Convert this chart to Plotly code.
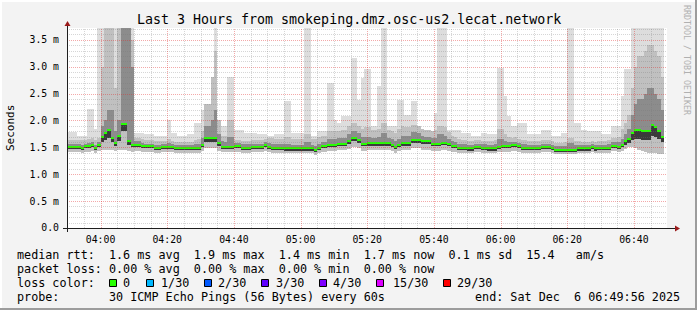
import plotly.graph_objects as go
from datetime import datetime, timedelta

# ---------------- data (ms, one value per 60 s step, starting 03:50) ----------------
rtt_median = [
    1.51, 1.51, 1.51, 1.51, 1.49, 1.52, 1.53, 1.54, 1.49, 1.55,
    1.70, 1.76, 1.82, 1.68, 1.58, 1.72, 1.94, 1.94, 1.61, 1.55,
    1.55, 1.55, 1.52, 1.52, 1.52, 1.52, 1.49, 1.49, 1.51, 1.51,
    1.51, 1.51, 1.49, 1.49, 1.49, 1.49, 1.49, 1.49, 1.49, 1.49,
    1.55, 1.68, 1.68, 1.68, 1.68, 1.58, 1.51, 1.51, 1.51, 1.51,
    1.52, 1.52, 1.49, 1.49, 1.49, 1.51, 1.51, 1.51, 1.51, 1.54,
    1.51, 1.49, 1.49, 1.49, 1.49, 1.48, 1.48, 1.48, 1.48, 1.48,
    1.48, 1.48, 1.48, 1.48, 1.45, 1.49, 1.52, 1.52, 1.54, 1.54,
    1.54, 1.57, 1.57, 1.57, 1.61, 1.68, 1.68, 1.64, 1.57, 1.57,
    1.58, 1.58, 1.58, 1.58, 1.58, 1.58, 1.58, 1.55, 1.51, 1.55,
    1.58, 1.58, 1.58, 1.64, 1.64, 1.64, 1.61, 1.61, 1.61, 1.57,
    1.57, 1.57, 1.59, 1.59, 1.57, 1.52, 1.52, 1.49, 1.49, 1.49,
    1.48, 1.48, 1.51, 1.51, 1.49, 1.49, 1.48, 1.48, 1.48, 1.51,
    1.52, 1.52, 1.52, 1.54, 1.54, 1.52, 1.49, 1.49, 1.49, 1.49,
    1.49, 1.49, 1.51, 1.51, 1.51, 1.49, 1.46, 1.46, 1.46, 1.46,
    1.46, 1.46, 1.46, 1.48, 1.48, 1.48, 1.48, 1.51, 1.48, 1.49,
    1.49, 1.49, 1.49, 1.53, 1.53, 1.51, 1.55, 1.61, 1.66, 1.76,
    1.83, 1.83, 1.80, 1.80, 1.80, 1.92, 1.88, 1.81, 1.70, None,
]
rtt_max = [
    1.78, 1.78, 1.78, 1.72, 1.72, 1.72, 2.22, 2.22, 1.85, 3.80,
    3.80, 3.80, 3.80, 3.80, 3.80, 3.80, 3.80, 3.80, 3.80, 3.80,
    1.77, 1.77, 1.77, 1.74, 1.74, 1.74, 1.71, 1.71, 1.71, 1.71,
    2.00, 1.77, 1.77, 1.71, 1.71, 1.71, 1.74, 1.74, 1.95, 1.95,
    2.20, 2.20, 2.20, 2.60, 3.80, 1.90, 1.90, 1.90, 2.80, 2.80,
    1.83, 1.83, 1.83, 1.77, 1.77, 1.77, 1.77, 1.74, 1.74, 1.74,
    1.71, 1.71, 1.74, 1.74, 1.74, 2.36, 2.36, 1.77, 1.77, 1.77,
    1.77, 3.80, 3.80, 1.71, 1.71, 1.80, 1.80, 1.80, 2.70, 2.70,
    2.00, 1.95, 2.08, 2.08, 2.08, 3.16, 3.16, 2.39, 2.79, 2.95,
    2.95, 1.90, 1.90, 2.64, 3.80, 3.80, 1.90, 1.90, 1.90, 2.39,
    2.39, 2.10, 2.10, 2.36, 2.36, 1.83, 1.83, 1.77, 1.77, 1.77,
    2.14, 3.80, 3.80, 3.80, 1.83, 1.83, 1.83, 1.83, 1.77, 1.77,
    1.77, 1.71, 1.71, 1.71, 1.77, 1.77, 1.74, 1.74, 1.74, 2.98,
    2.98, 2.45, 2.08, 1.90, 1.90, 1.96, 1.96, 1.96, 1.74, 1.74,
    1.74, 1.74, 1.83, 1.83, 1.83, 1.71, 1.71, 1.71, 1.77, 1.77,
    3.80, 3.80, 1.96, 1.96, 1.83, 1.83, 1.80, 1.80, 1.80, 1.80,
    1.74, 1.74, 1.74, 1.90, 1.90, 1.90, 2.45, 2.95, 2.95, 3.80,
    3.80, 3.80, 3.80, 3.80, 3.80, 3.80, 3.80, 3.80, 3.80, None,
]
rtt_p90 = [
    1.64, 1.64, 1.64, 1.63, 1.63, 1.64, 1.66, 1.68, 1.63, 1.68,
    3.00, 3.80, 3.80, 3.80, 2.60, 3.80, 3.80, 3.80, 3.80, 3.50,
    1.68, 1.68, 1.66, 1.63, 1.63, 1.63, 1.62, 1.62, 1.62, 1.62,
    1.66, 1.62, 1.60, 1.60, 1.60, 1.60, 1.60, 1.60, 1.64, 1.66,
    1.80, 2.30, 2.30, 2.80, 3.30, 2.00, 1.72, 1.72, 2.00, 2.00,
    1.64, 1.64, 1.62, 1.62, 1.62, 1.63, 1.63, 1.63, 1.63, 1.66,
    1.68, 1.68, 1.66, 1.66, 1.66, 1.70, 1.70, 1.66, 1.66, 1.66,
    1.66, 1.75, 1.75, 1.66, 1.66, 1.70, 1.72, 1.72, 1.80, 1.80,
    1.80, 1.80, 1.82, 1.82, 1.90, 1.95, 1.95, 1.90, 1.85, 1.88,
    1.88, 1.82, 1.82, 1.85, 1.95, 1.95, 1.82, 1.80, 1.76, 1.85,
    1.90, 1.88, 1.88, 1.92, 1.92, 1.90, 1.85, 1.82, 1.82, 1.80,
    1.82, 1.90, 1.90, 1.88, 1.78, 1.72, 1.70, 1.66, 1.64, 1.64,
    1.62, 1.62, 1.64, 1.64, 1.62, 1.62, 1.62, 1.62, 1.64, 1.85,
    1.85, 1.75, 1.70, 1.68, 1.70, 1.66, 1.64, 1.64, 1.62, 1.62,
    1.62, 1.62, 1.64, 1.64, 1.64, 1.62, 1.58, 1.58, 1.58, 1.60,
    1.68, 1.68, 1.62, 1.62, 1.60, 1.60, 1.60, 1.62, 1.60, 1.62,
    1.62, 1.62, 1.64, 1.68, 1.68, 1.70, 1.85, 1.95, 2.10, 2.60,
    3.00, 3.20, 3.20, 3.30, 3.40, 3.40, 3.30, 3.20, 2.80, None,
]
rtt_p75 = [
    1.57, 1.57, 1.57, 1.56, 1.55, 1.57, 1.58, 1.60, 1.55, 1.60,
    1.90, 2.00, 2.20, 2.20, 1.80, 2.00, 3.80, 3.80, 3.80, 3.00,
    1.62, 1.61, 1.58, 1.57, 1.57, 1.57, 1.55, 1.55, 1.56, 1.56,
    1.58, 1.56, 1.54, 1.54, 1.54, 1.54, 1.54, 1.54, 1.56, 1.57,
    1.68, 1.90, 1.90, 2.00, 2.20, 1.75, 1.62, 1.60, 1.70, 1.70,
    1.58, 1.58, 1.56, 1.56, 1.56, 1.57, 1.57, 1.57, 1.57, 1.60,
    1.58, 1.57, 1.56, 1.56, 1.56, 1.56, 1.56, 1.55, 1.55, 1.55,
    1.55, 1.60, 1.60, 1.55, 1.52, 1.57, 1.60, 1.60, 1.66, 1.66,
    1.66, 1.68, 1.68, 1.68, 1.74, 1.80, 1.80, 1.76, 1.70, 1.70,
    1.70, 1.68, 1.68, 1.70, 1.76, 1.76, 1.68, 1.66, 1.62, 1.66,
    1.72, 1.72, 1.72, 1.78, 1.78, 1.76, 1.72, 1.70, 1.70, 1.68,
    1.68, 1.74, 1.74, 1.72, 1.66, 1.62, 1.60, 1.57, 1.56, 1.56,
    1.55, 1.55, 1.57, 1.57, 1.56, 1.56, 1.55, 1.55, 1.56, 1.66,
    1.66, 1.62, 1.60, 1.60, 1.60, 1.58, 1.56, 1.56, 1.55, 1.55,
    1.55, 1.55, 1.57, 1.57, 1.57, 1.55, 1.52, 1.52, 1.52, 1.53,
    1.58, 1.58, 1.54, 1.54, 1.54, 1.54, 1.54, 1.56, 1.54, 1.55,
    1.55, 1.55, 1.56, 1.60, 1.60, 1.60, 1.66, 1.75, 1.85, 2.10,
    2.30, 2.40, 2.40, 2.50, 2.60, 2.60, 2.50, 2.40, 2.20, None,
]
rtt_p25 = [
    1.47, 1.47, 1.47, 1.47, 1.45, 1.48, 1.49, 1.50, 1.45, 1.50,
    1.60, 1.64, 1.68, 1.60, 1.52, 1.62, 1.80, 1.80, 1.54, 1.50,
    1.51, 1.51, 1.48, 1.48, 1.48, 1.48, 1.45, 1.45, 1.47, 1.47,
    1.47, 1.47, 1.45, 1.45, 1.45, 1.45, 1.45, 1.45, 1.45, 1.45,
    1.50, 1.60, 1.60, 1.60, 1.60, 1.52, 1.47, 1.47, 1.47, 1.47,
    1.48, 1.48, 1.45, 1.45, 1.45, 1.47, 1.47, 1.47, 1.47, 1.50,
    1.47, 1.45, 1.45, 1.45, 1.45, 1.44, 1.44, 1.44, 1.44, 1.44,
    1.44, 1.44, 1.44, 1.44, 1.41, 1.45, 1.48, 1.48, 1.50, 1.50,
    1.50, 1.53, 1.53, 1.53, 1.56, 1.62, 1.62, 1.58, 1.52, 1.52,
    1.53, 1.53, 1.53, 1.53, 1.53, 1.53, 1.53, 1.50, 1.47, 1.50,
    1.53, 1.53, 1.53, 1.58, 1.58, 1.58, 1.56, 1.56, 1.56, 1.52,
    1.52, 1.52, 1.54, 1.54, 1.52, 1.48, 1.48, 1.45, 1.45, 1.45,
    1.44, 1.44, 1.47, 1.47, 1.45, 1.45, 1.44, 1.44, 1.44, 1.47,
    1.48, 1.48, 1.48, 1.50, 1.50, 1.48, 1.45, 1.45, 1.45, 1.45,
    1.45, 1.45, 1.47, 1.47, 1.47, 1.45, 1.42, 1.42, 1.42, 1.42,
    1.42, 1.42, 1.42, 1.44, 1.44, 1.44, 1.44, 1.47, 1.44, 1.45,
    1.45, 1.45, 1.45, 1.49, 1.49, 1.47, 1.50, 1.54, 1.58, 1.64,
    1.66, 1.66, 1.64, 1.64, 1.64, 1.72, 1.70, 1.66, 1.60, None,
]
rtt_min = [
    1.41, 1.41, 1.41, 1.41, 1.40, 1.42, 1.42, 1.43, 1.40, 1.43,
    1.45, 1.46, 1.46, 1.45, 1.43, 1.45, 1.46, 1.46, 1.43, 1.42,
    1.44, 1.44, 1.42, 1.42, 1.42, 1.42, 1.40, 1.40, 1.41, 1.41,
    1.41, 1.41, 1.40, 1.40, 1.40, 1.40, 1.40, 1.39, 1.40, 1.40,
    1.43, 1.48, 1.48, 1.48, 1.48, 1.44, 1.41, 1.41, 1.41, 1.41,
    1.42, 1.42, 1.40, 1.40, 1.40, 1.41, 1.41, 1.41, 1.41, 1.43,
    1.41, 1.40, 1.40, 1.40, 1.40, 1.39, 1.39, 1.39, 1.39, 1.39,
    1.39, 1.39, 1.39, 1.39, 1.36, 1.40, 1.42, 1.42, 1.43, 1.43,
    1.43, 1.45, 1.45, 1.45, 1.47, 1.50, 1.50, 1.48, 1.44, 1.44,
    1.45, 1.45, 1.45, 1.45, 1.45, 1.45, 1.45, 1.43, 1.40, 1.43,
    1.45, 1.45, 1.45, 1.48, 1.48, 1.48, 1.46, 1.46, 1.46, 1.44,
    1.44, 1.44, 1.46, 1.46, 1.44, 1.42, 1.42, 1.40, 1.40, 1.40,
    1.39, 1.39, 1.41, 1.41, 1.40, 1.40, 1.39, 1.39, 1.39, 1.41,
    1.42, 1.42, 1.42, 1.43, 1.43, 1.42, 1.40, 1.40, 1.40, 1.40,
    1.40, 1.40, 1.41, 1.41, 1.41, 1.40, 1.37, 1.37, 1.37, 1.37,
    1.37, 1.37, 1.37, 1.39, 1.39, 1.39, 1.39, 1.41, 1.39, 1.40,
    1.40, 1.40, 1.40, 1.43, 1.43, 1.41, 1.44, 1.47, 1.50, 1.50,
    1.48, 1.46, 1.44, 1.42, 1.40, 1.40, 1.40, 1.38, 1.38, None,
]

x_tick_labels = ["04:00", "04:20", "04:40", "05:00", "05:20", "05:40", "06:00", "06:20", "06:40"]
y_tick_values = [0.0, 0.5, 1.0, 1.5, 2.0, 2.5, 3.0, 3.5]
y_tick_labels = ["0.0", "0.5 m", "1.0 m", "1.5 m", "2.0 m", "2.5 m", "3.0 m", "3.5 m"]

loss_labels = ["0", "1/30", "2/30", "3/30", "4/30", "15/30", "29/30"]
loss_colors = ["#26ff00", "#00b8ff", "#0059ff", "#5e00ff", "#7e00ff", "#dd00ff", "#ff0000"]

title_text = "Last 3 Hours from smokeping.dmz.osc-us2.lecat.network"
legend_rtt = "median rtt:  1.6 ms avg  1.9 ms max  1.4 ms min  1.7 ms now  0.1 ms sd  15.4   am/s"
legend_loss = "packet loss: 0.00 % avg  0.00 % max  0.00 % min  0.00 % now"
legend_probe = "probe:       30 ICMP Echo Pings (56 Bytes) every 60s"
legend_end = "end: Sat Dec  6 06:49:56 2025"

# ---------------- geometry / style ----------------
W, H = 697, 310
L, R, T, B = 67, 30, 28, 82
PW, PH = W - L - R, H - T - B
YMAX = 3.72
MONO = "DejaVu Sans Mono"

t_start = datetime(2025, 12, 6, 3, 49, 56)
t_end = datetime(2025, 12, 6, 6, 49, 56)
t_first = datetime(2025, 12, 6, 3, 50, 0)
times = [t_first + timedelta(minutes=i) for i in range(len(rtt_median))]
tick_times = [datetime(2025, 12, 6, 4, 0) + timedelta(minutes=20 * i) for i in range(len(x_tick_labels))]


def pxx(x):
    return (x - L) / PW


def pxy(y):
    return (T + PH - y) / PH


fig = go.Figure()


def band(lo, hi, color):
    base, h = [], []
    for a, b in zip(lo, hi):
        if a is None or b is None:
            base.append(None)
            h.append(None)
        else:
            base.append(a)
            h.append(b - a)
    fig.add_trace(go.Bar(x=times, y=h, base=base, width=60000, offset=0,
                         marker=dict(color=color, line=dict(width=0)),
                         hoverinfo="skip", showlegend=False))


band(rtt_min, rtt_max, "#dddddd")
band(rtt_min, rtt_p90, "#c0c0c0")
band(rtt_p25, rtt_p75, "#8c8c8c")
band(rtt_p25, rtt_median, "#3a3a3a")

half = 1.0 * YMAX / PH  # one pixel in ms
med_lo = [None if m is None else m - half for m in rtt_median]
med_hi = [None if m is None else m + half for m in rtt_median]
band(med_lo, med_hi, loss_colors[0])

shapes = []
# grid (drawn over the data, like rrdtool)
minor_col = "rgba(120,120,120,0.30)"
major_col = "rgba(225,40,40,0.40)"
k = 1
while k * 0.1 <= YMAX:
    v = k * 0.1
    ypix = round(T + PH - v * PH / YMAX) + 0.5
    col = major_col if k % 5 == 0 else minor_col
    shapes.append(dict(type="line", xref="paper", yref="paper", x0=0, x1=1,
                       y0=pxy(ypix), y1=pxy(ypix), layer="above",
                       line=dict(color=col, width=1, dash="1px,1px")))
    k += 1
tt = datetime(2025, 12, 6, 3, 55)
while tt < t_end:
    secs = (tt - t_start).total_seconds()
    xpix = round(L + secs / 10800 * PW) + 0.5
    col = major_col if tt.minute % 20 == 0 else minor_col
    shapes.append(dict(type="line", xref="paper", yref="paper", x0=pxx(xpix), x1=pxx(xpix),
                       y0=0, y1=1, layer="above",
                       line=dict(color=col, width=1, dash="1px,1px")))
    tt += timedelta(minutes=5)

# axes with arrows
axis_col = "#1e1e1e"
arrow_col = "#9a1a1a"
shapes.append(dict(type="line", xref="paper", yref="paper", x0=pxx(63), x1=pxx(676),
                   y0=pxy(228.5), y1=pxy(228.5), layer="above", line=dict(color=axis_col, width=1)))
shapes.append(dict(type="line", xref="paper", yref="paper", x0=pxx(67.5), x1=pxx(67.5),
                   y0=pxy(232), y1=pxy(25), layer="above", line=dict(color=axis_col, width=1)))
shapes.append(dict(type="path", xref="paper", yref="paper", layer="above",
                   path=f"M {pxx(675)},{pxy(225.5)} L {pxx(680)},{pxy(228.5)} L {pxx(675)},{pxy(231.5)} Z",
                   fillcolor=arrow_col, line=dict(width=0)))
shapes.append(dict(type="path", xref="paper", yref="paper", layer="above",
                   path=f"M {pxx(64.5)},{pxy(26)} L {pxx(67.5)},{pxy(21)} L {pxx(70.5)},{pxy(26)} Z",
                   fillcolor=arrow_col, line=dict(width=0)))

# frame of the image (3D look)
shapes.append(dict(type="line", xref="paper", yref="paper", x0=pxx(0), x1=pxx(697),
                   y0=pxy(309), y1=pxy(309), line=dict(color="#9c9c9c", width=2)))
shapes.append(dict(type="line", xref="paper", yref="paper", x0=pxx(696), x1=pxx(696),
                   y0=pxy(0), y1=pxy(310), line=dict(color="#9c9c9c", width=2)))
shapes.append(dict(type="line", xref="paper", yref="paper", x0=pxx(0), x1=pxx(695),
                   y0=pxy(1), y1=pxy(1), line=dict(color="#ffffff", width=2)))
shapes.append(dict(type="line", xref="paper", yref="paper", x0=pxx(1), x1=pxx(1),
                   y0=pxy(0), y1=pxy(308), line=dict(color="#ffffff", width=2)))

# loss colour boxes
box_left = [109, 146, 204, 261, 319, 376, 443]
label_left = [123.3, 161, 218, 276, 333, 392.7, 457]
for bx, colr in zip(box_left, loss_colors):
    shapes.append(dict(type="rect", xref="paper", yref="paper",
                       x0=pxx(bx + 0.5), x1=pxx(bx + 7.5), y0=pxy(279.5), y1=pxy(286.5),
                       fillcolor=colr, line=dict(color="#000000", width=1)))

annotations = []


def text(x, y, s, size, xanchor="left", color="#000000", angle=0):
    annotations.append(dict(x=pxx(x), y=pxy(y), xref="paper", yref="paper",
                            text=s.replace(" ", "\u00a0"), showarrow=False,
                            xanchor=xanchor, yanchor="middle", textangle=angle,
                            borderpad=0, font=dict(family=MONO, size=size, color=color)))


LEG = 11.75
text(348.5, 19.5, title_text, 13.3, xanchor="center")
text(10, 128, "Seconds", 11, xanchor="center", angle=-90)
text(687, 60, "RRDTOOL / TOBI OETIKER", 8.3, xanchor="center", color="#b0b0b0", angle=90)
text(15.5, 255, legend_rtt, LEG)
text(15.5, 268.5, legend_loss, LEG)
text(15.5, 282.5, "loss color:", LEG)
for lx, lab in zip(label_left, loss_labels):
    text(lx - 1, 282.5, lab, LEG)
text(15.5, 296.5, legend_probe, LEG)
text(681, 296.5, legend_end, LEG, xanchor="right")

fig.update_layout(
    width=W, height=H,
    margin=dict(l=L, r=R, t=T, b=B, pad=0),
    paper_bgcolor="#f3f3f3", plot_bgcolor="#ffffff",
    barmode="overlay", bargap=0, showlegend=False, hovermode=False,
    shapes=shapes, annotations=annotations,
    font=dict(family=MONO, color="#000000"),
)
fig.update_xaxes(type="date", range=[t_start, t_end], tickvals=tick_times, ticktext=x_tick_labels,
                 showgrid=False, zeroline=False, showline=False, ticks="outside", ticklen=2,
                 tickcolor="rgba(0,0,0,0)", tickfont=dict(family=MONO, size=9.8, color="#000000"),
                 fixedrange=True)
fig.update_yaxes(range=[0, YMAX], tickvals=y_tick_values, ticktext=y_tick_labels,
                 showgrid=False, zeroline=False, showline=False, ticks="outside", ticklen=5,
                 tickcolor="rgba(0,0,0,0)", tickfont=dict(family=MONO, size=9.8, color="#000000"),
                 fixedrange=True)

fig.write_html("out.html", config={"displayModeBar": False, "staticPlot": True})
